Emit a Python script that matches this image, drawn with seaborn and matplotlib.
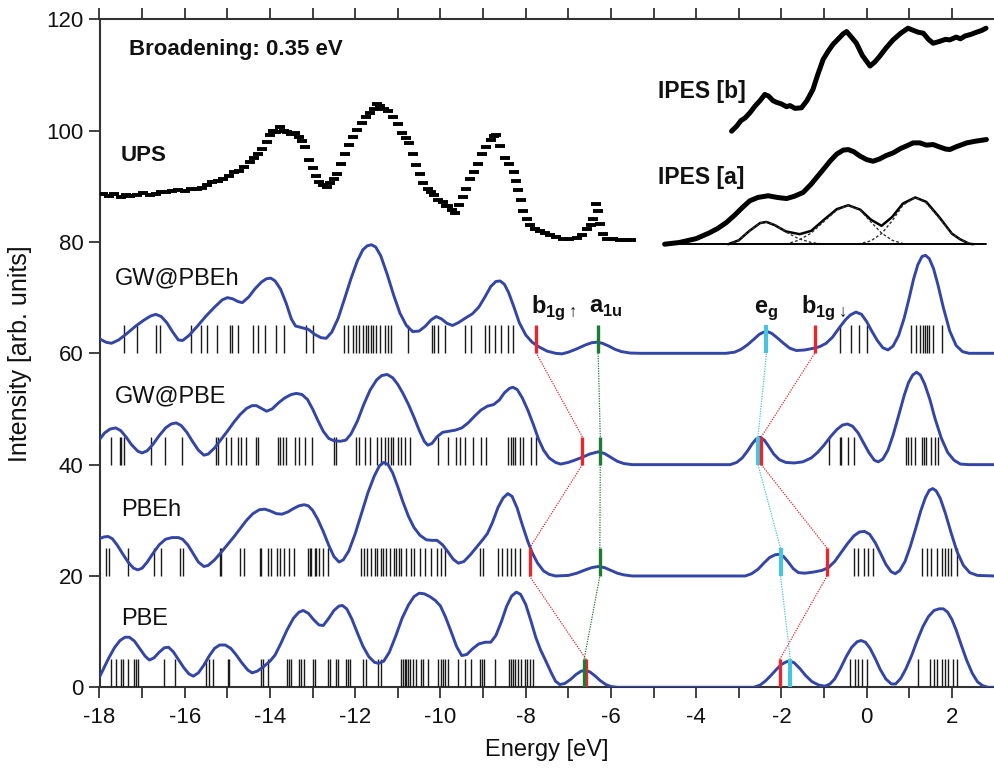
import numpy as np
import pandas as pd
import matplotlib
matplotlib.use("Agg")
import matplotlib.pyplot as plt
import seaborn as sns

# ---------------- data ----------------
# broadened spectra (Energy, Intensity); offsets already included
gwpbeh_e = [-18.0, -17.85, -17.72, -17.55, -17.35, -17.15, -16.95, -16.8, -16.68, -16.55, -16.42, -16.28, -16.15,
            -16.05, -15.9, -15.7, -15.5, -15.3, -15.12, -15.0, -14.88, -14.75, -14.65, -14.5, -14.35, -14.2, -14.08,
            -13.98, -13.88, -13.75, -13.62, -13.5, -13.4, -13.25, -13.1, -12.95, -12.8, -12.68, -12.55, -12.4,
            -12.25, -12.1, -11.95, -11.82, -11.72, -11.62, -11.52, -11.4, -11.25, -11.1, -10.95, -10.8, -10.65,
            -10.5, -10.35, -10.22, -10.1, -9.98, -9.85, -9.72, -9.58, -9.42, -9.25, -9.1, -8.95, -8.82, -8.7, -8.6,
            -8.5, -8.4, -8.28, -8.15, -8.0, -7.85, -7.7, -7.5, -7.3, -7.15, -7.0, -6.8, -6.6, -6.45, -6.32, -6.2,
            -6.05, -5.9, -5.75, -5.55, -5.3, -3.3, -3.1, -2.95, -2.8, -2.65, -2.52, -2.42, -2.33, -2.23, -2.1,
            -1.95, -1.8, -1.65, -1.45, -1.25, -1.1, -0.95, -0.8, -0.65, -0.5, -0.38, -0.25, -0.12, 0.0, 0.12,
            0.25, 0.38, 0.5, 0.62, 0.75, 0.88, 1.0, 1.1, 1.2, 1.3, 1.38, 1.47, 1.57, 1.67, 1.8, 1.95, 2.1, 2.25,
            2.4, 3.0]
gwpbeh_i = [62.6, 62.0, 61.8, 62.4, 63.6, 64.9, 66.0, 66.7, 67.0, 66.6, 65.5, 63.8, 62.4,
            62.3, 63.2, 64.9, 66.7, 68.3, 69.6, 70.0, 69.8, 69.3, 69.1, 70.1, 71.6, 72.8, 73.4,
            73.5, 73.0, 71.5, 69.0, 66.2, 64.9, 64.6, 64.3, 63.4, 62.8, 62.7, 63.8, 66.3,
            69.8, 73.4, 76.6, 78.6, 79.3, 79.5, 79.1, 77.5, 74.2, 70.5, 67.2, 65.0, 63.9,
            64.0, 64.9, 66.0, 66.6, 66.2, 65.4, 65.0, 65.5, 66.3, 67.1, 68.3, 70.2, 72.0, 72.9, 73.0,
            72.4, 70.9, 68.4, 65.5, 63.3, 62.0, 61.2, 60.4, 60.0, 59.9, 60.2, 60.8, 61.5, 61.9, 62.0, 61.8,
            61.3, 60.7, 60.3, 60.05, 60.0, 60.0, 60.2, 60.7, 61.5, 62.5, 63.4, 63.8, 63.9, 63.6, 62.8,
            61.8, 60.9, 60.5, 60.6, 60.9, 61.2, 61.8, 62.9, 64.5, 66.0, 66.9, 67.4, 67.0, 65.7, 64.0,
            62.3, 61.0, 60.6, 61.3, 63.2, 66.3, 70.0, 73.3, 75.9, 77.4, 77.6, 77.0, 75.2, 72.4, 68.2, 64.0, 61.4,
            60.3, 60.0, 60.0]

gwpbe_e = [-18.0, -17.88, -17.75, -17.62, -17.5, -17.38, -17.25, -17.1, -17.0, -16.88, -16.75, -16.6, -16.45, -16.32,
           -16.2, -16.08, -15.95, -15.82, -15.68, -15.55, -15.45, -15.3, -15.15, -15.0, -14.85, -14.7, -14.55,
           -14.42, -14.32, -14.2, -14.08, -13.95, -13.8, -13.65, -13.5, -13.38, -13.25, -13.12, -13.0, -12.88,
           -12.75, -12.62, -12.5, -12.35, -12.22, -12.1, -11.95, -11.8, -11.65, -11.5, -11.38, -11.25, -11.12,
           -11.0, -10.88, -10.75, -10.62, -10.5, -10.38, -10.3, -10.2, -10.08, -9.95, -9.8, -9.65, -9.5, -9.35,
           -9.2, -9.05, -8.9, -8.75, -8.62, -8.5, -8.38, -8.3, -8.2, -8.08, -7.95, -7.82, -7.7, -7.58, -7.45,
           -7.3, -7.18, -7.0, -6.85, -6.68, -6.5, -6.3, -6.15, -6.0, -5.85, -5.7, -5.5, -3.2, -3.05, -2.92,
           -2.8, -2.68, -2.58, -2.5, -2.4, -2.3, -2.18, -2.05, -1.9, -1.7, -1.5, -1.3, -1.15, -1.0, -0.85, -0.7,
           -0.57, -0.45, -0.33, -0.2, -0.08, 0.05, 0.18, 0.27, 0.38, 0.5, 0.62, 0.75, 0.88, 0.98, 1.08, 1.17,
           1.26, 1.36, 1.48, 1.6, 1.75, 1.9, 2.05, 2.2, 2.4, 3.0]
gwpbe_i = [44.5, 45.7, 46.4, 46.6, 46.1, 45.0, 43.6, 42.4, 42.1, 42.5, 43.6, 45.2, 46.6, 47.3,
           47.5, 47.0, 45.8, 44.2, 42.6, 41.7, 41.9, 43.0, 44.5, 46.0, 47.6, 49.0, 50.1,
           50.6, 50.6, 50.1, 49.6, 50.0, 51.1, 52.0, 52.6, 52.8, 52.6, 51.7, 50.0, 48.0,
           46.0, 44.7, 44.3, 44.2, 44.4, 45.5, 47.8, 50.8, 53.4, 55.2, 56.0, 56.2, 55.6,
           54.4, 52.8, 50.8, 48.5, 46.2, 44.2, 43.5, 43.8, 45.0, 45.8, 46.0, 46.2, 46.6, 47.5,
           48.7, 49.8, 50.5, 50.8, 51.6, 52.9, 53.7, 53.9, 53.5, 52.0, 49.8, 47.2, 44.6, 42.6, 41.2,
           40.4, 40.1, 40.4, 40.8, 41.3, 41.9, 42.3, 42.0, 41.3, 40.6, 40.2, 40.0, 40.0, 40.4, 41.2,
           42.4, 43.8, 44.7, 44.9, 44.4, 43.3, 41.9, 40.9, 40.4, 40.3, 40.5, 41.2, 42.2, 43.5, 45.0, 46.3,
           47.1, 47.3, 46.9, 45.7, 44.0, 42.2, 40.8, 40.5, 41.0, 42.6, 45.3, 48.8, 52.4, 54.7, 56.1, 56.6,
           56.1, 54.5, 51.8, 48.4, 44.8, 42.2, 40.8, 40.1, 40.0, 40.0]

pbeh_e = [-18.0, -17.9, -17.8, -17.7, -17.58, -17.45, -17.32, -17.2, -17.1, -17.0, -16.88, -16.75, -16.6, -16.45,
          -16.3, -16.15, -16.05, -15.92, -15.8, -15.68, -15.55, -15.45, -15.3, -15.15, -15.0, -14.85, -14.7,
          -14.55, -14.4, -14.25, -14.12, -14.0, -13.85, -13.72, -13.58, -13.45, -13.32, -13.2, -13.1, -13.0,
          -12.88, -12.75, -12.62, -12.5, -12.38, -12.28, -12.15, -12.0, -11.85, -11.7, -11.55, -11.43, -11.33,
          -11.23, -11.12, -11.0, -10.88, -10.75, -10.62, -10.48, -10.33, -10.2, -10.08, -9.95, -9.82, -9.7,
          -9.58, -9.45, -9.3, -9.15, -9.0, -8.9, -8.78, -8.65, -8.53, -8.42, -8.32, -8.2, -8.08, -7.95, -7.85,
          -7.72, -7.58, -7.45, -7.3, -7.0, -6.8, -6.6, -6.45, -6.3, -6.15, -6.0, -5.85, -5.7, -5.5, -2.85, -2.7,
          -2.55, -2.4, -2.28, -2.15, -2.05, -1.95, -1.85, -1.72, -1.6, -1.45, -1.25, -1.05, -0.9, -0.75, -0.6,
          -0.45, -0.3, -0.17, -0.05, 0.07, 0.2, 0.33, 0.45, 0.57, 0.67, 0.78, 0.9, 1.02, 1.15, 1.27, 1.38, 1.47,
          1.55, 1.63, 1.73, 1.85, 1.98, 2.12, 2.27, 2.42, 2.6, 3.0]
pbeh_i = [26.7, 27.0, 27.1, 26.7, 25.5, 23.9, 22.4, 21.4, 21.1, 21.4, 22.5, 24.0, 25.6, 26.6,
          26.9, 26.9, 26.6, 25.5, 24.0, 22.5, 21.7, 21.9, 22.9, 24.2, 25.6, 27.0, 28.5,
          30.0, 31.2, 31.9, 32.0, 31.7, 31.2, 31.1, 31.5, 32.1, 32.6, 32.8, 32.6, 31.8,
          30.2, 28.0, 25.5, 23.5, 22.5, 22.9, 24.5, 27.6, 31.3, 35.0, 38.0, 39.8, 40.4,
          40.0, 38.5, 36.0, 33.3, 30.7, 28.7, 27.3, 26.5, 26.4, 26.4, 25.6, 24.3, 23.0,
          22.3, 22.6, 23.8, 25.2, 26.6, 27.6, 29.6, 32.3, 34.0, 34.8, 34.3, 32.2, 29.2, 26.2, 24.2,
          22.3, 20.9, 20.3, 20.0, 20.1, 20.5, 21.1, 21.5, 21.7, 21.5, 21.0, 20.5, 20.2, 20.0, 20.0, 20.4,
          21.2, 22.4, 23.3, 23.8, 23.9, 23.5, 22.6, 21.3, 20.6, 20.5, 20.7, 21.0, 21.5, 22.6, 24.2,
          25.8, 27.2, 27.9, 28.0, 27.5, 26.0, 24.0, 22.1, 20.8, 20.4, 21.0, 22.6, 25.2, 28.5, 31.7, 34.1, 35.4,
          35.7, 35.3, 33.9, 31.2, 27.8, 24.4, 21.9, 20.6, 20.1, 20.0]

pbe_e = [-18.0, -17.9, -17.78, -17.65, -17.52, -17.4, -17.3, -17.18, -17.05, -16.93, -16.83, -16.72, -16.6, -16.48,
         -16.38, -16.27, -16.15, -16.02, -15.9, -15.8, -15.68, -15.55, -15.42, -15.3, -15.18, -15.05, -14.92,
         -14.8, -14.66, -14.52, -14.42, -14.3, -14.15, -14.0, -13.88, -13.75, -13.6, -13.45, -13.32, -13.22,
         -13.1, -12.97, -12.85, -12.75, -12.63, -12.5, -12.38, -12.3, -12.2, -12.08, -11.95, -11.82, -11.68,
         -11.55, -11.45, -11.33, -11.2, -11.05, -10.9, -10.75, -10.62, -10.5, -10.38, -10.25, -10.12, -10.0,
         -9.88, -9.75, -9.62, -9.5, -9.38, -9.25, -9.1, -8.95, -8.82, -8.7, -8.57, -8.45, -8.33, -8.22, -8.12,
         -8.0, -7.88, -7.76, -7.65, -7.52, -7.4, -7.3, -7.2, -7.08, -6.95, -6.82, -6.7, -6.6, -6.5, -6.38,
         -6.25, -6.12, -6.0, -5.85, -2.65, -2.5, -2.38, -2.25, -2.12, -2.0, -1.88, -1.8, -1.7, -1.57, -1.43,
         -1.28, -1.12, -0.98, -0.86, -0.75, -0.62, -0.48, -0.35, -0.22, -0.13, -0.03, 0.08, 0.2, 0.32, 0.45,
         0.58, 0.68, 0.8, 0.92, 1.05, 1.18, 1.32, 1.45, 1.58, 1.7, 1.8, 1.9, 2.0, 2.1, 2.22, 2.35, 2.48, 2.6,
         2.72, 2.85, 3.0]
pbe_i = [1.85, 3.4, 5.3, 7.1, 8.4, 9.0, 9.0, 8.3, 6.9, 5.6, 4.9, 5.3, 6.3, 7.1,
         7.2, 6.4, 5.0, 3.5, 2.4, 2.0, 2.6, 4.0, 5.7, 7.0, 7.6, 7.6, 7.0,
         5.9, 4.4, 3.1, 2.6, 2.9, 3.7, 4.7, 5.8, 7.8, 10.3, 12.4, 13.5, 13.8,
         13.3, 12.1, 11.2, 11.1, 12.3, 13.8, 14.6, 14.7, 14.1, 12.3, 9.8, 7.4, 5.5,
         4.5, 4.3, 4.7, 6.3, 9.2, 12.4, 14.8, 16.3, 16.9, 16.8, 16.3, 15.6, 14.6,
         12.6, 10.0, 7.3, 5.7, 5.9, 6.9, 7.8, 8.1, 8.1, 9.3, 11.8, 14.5, 16.4, 17.1, 16.7,
         14.9, 12.0, 8.9, 6.7, 4.6, 2.6, 1.1, 0.5, 0.7, 1.4, 2.3, 2.9, 3.05, 2.8, 2.1,
         1.2, 0.5, 0.15, 0.0, 0.0, 0.4, 1.1, 2.1, 3.2, 4.1, 4.6, 4.7, 4.4, 3.4, 2.1,
         1.0, 0.4, 0.2, 0.6, 1.5, 3.3, 5.5, 7.2, 8.2, 8.4, 8.1, 7.0, 5.2, 3.2, 1.5,
         0.6, 0.6, 1.6, 3.3, 5.6, 8.3, 10.9, 12.7, 13.8, 14.1, 14.1, 13.5, 12.2, 10.3, 7.6, 4.8, 2.5, 1.0,
         0.3, 0.0, 0.0]

# eigenvalue sticks (eV)
gwpbeh_sticks = [-17.43, -17.12, -16.67, -16.59, -15.86, -15.63, -15.47, -15.24, -14.93, -14.88, -14.74, -14.40,
                 -14.28, -14.11, -13.85, -13.66, -13.15, -12.99, -12.26, -12.17, -12.05, -11.97, -11.90, -11.82,
                 -11.74, -11.69, -11.64, -11.58, -11.51, -11.43, -11.31, -11.23, -11.17, -10.76, -10.21, -10.14,
                 -10.06, -9.90, -9.43, -9.28, -8.96, -8.85, -8.73, -8.57, -8.41, -8.30,
                 -0.63, -0.36, -0.18, 0.0, 1.05, 1.16, 1.25, 1.33, 1.37, 1.41, 1.47, 1.56, 1.76]
gwpbe_sticks = [-17.74, -17.53, -17.49, -17.43, -16.79, -16.46, -16.07, -15.26, -15.21, -15.04, -14.91, -14.74,
                -14.67, -14.56, -14.32, -14.28, -13.81, -13.76, -13.70, -13.62, -13.42, -13.31, -13.17, -13.02,
                -12.50, -12.44, -11.97, -11.90, -11.76, -11.66, -11.48, -11.40, -11.31, -11.22, -11.17, -11.11,
                -11.00, -10.92, -10.83, -10.72, -10.06, -9.82, -9.63, -9.55, -9.43, -9.24, -9.04, -8.92, -8.41,
                -8.35, -8.30, -8.24, -8.14, -8.06, -7.87, -7.75,
                -0.88, -0.63, -0.59, -0.43, -0.30, 0.92, 0.98, 1.03, 1.13, 1.29, 1.34, 1.39, 1.52, 1.60, 1.68]
pbeh_sticks = [-17.84, -17.77, -17.34, -16.72, -16.55, -16.12, -16.04, -15.18, -15.16, -14.71, -14.61, -14.24,
               -14.21, -14.05, -13.97, -13.83, -13.77, -13.66, -13.56, -13.44, -13.11, -13.07, -13.03, -12.95,
               -12.91, -12.84, -12.76, -12.64, -11.86, -11.80, -11.72, -11.62, -11.54, -11.48, -11.40, -11.35,
               -11.27, -11.19, -11.08, -11.04, -10.98, -10.92, -10.80, -10.68, -10.61, -10.49, -10.37, -10.23,
               -10.07, -9.98, -9.90, -9.08, -9.00, -8.65, -8.56, -8.45, -8.35, -8.24, -8.14,
               -0.30, -0.20, -0.07, 0.04, 0.14, 1.31, 1.41, 1.52, 1.64, 1.76, 1.84, 1.91, 1.99, 2.11]
pbe_sticks = [-17.73, -17.61, -17.49, -17.45, -17.34, -17.19, -17.14, -17.10, -16.49, -16.22, -15.50, -15.42,
              -15.34, -14.99, -14.95, -14.21, -14.17, -14.05, -13.59, -13.56, -13.50, -13.33, -13.27, -13.19,
              -12.99, -12.95, -12.64, -12.58, -12.44, -12.41, -12.21, -12.17, -12.13, -11.82, -11.74, -11.47,
              -11.40, -10.92, -10.88, -10.84, -10.80, -10.76, -10.72, -10.64, -10.57, -10.45, -10.41, -10.29,
              -10.06, -9.99, -9.94, -9.90, -9.82, -9.59, -9.43, -9.29, -9.08, -9.03, -8.98, -8.73, -8.38, -8.34,
              -8.30, -8.24, -8.18, -8.10, -8.02, -7.98, -7.91, -7.83,
              -0.38, -0.28, -0.20, -0.10, 0.01, 1.21, 1.48, 1.58, 1.66, 1.76, 1.84, 1.91, 2.02, 2.11]

series_names = ["PBE", "PBEh", "GW@PBE", "GW@PBEh"]
offsets = [0, 20, 40, 60]

# labelled orbital levels for [PBE, PBEh, GW@PBE, GW@PBEh]
b1g_up = [-6.58, -7.91, -6.67, -7.75]
a1u = [-6.63, -6.26, -6.25, -6.30]
e_g = [-1.79, -2.02, -2.55, -2.35]
b1g_dn = [-2.04, -0.93, -2.47, -1.22]

# experimental UPS
ups_e = [-17.91, -17.78, -17.65, -17.5, -17.38, -17.28, -17.12, -16.98, -16.82, -16.68, -16.55, -16.44, -16.3,
         -16.15, -16.0, -15.85, -15.72, -15.6, -15.47, -15.35, -15.22, -15.1, -14.97, -14.85, -14.72, -14.6,
         -14.48, -14.38, -14.28, -14.18, -14.08, -14.0, -13.93, -13.85, -13.76, -13.68, -13.6, -13.5, -13.42,
         -13.33, -13.25, -13.17, -13.09, -13.0, -12.92, -12.84, -12.76, -12.67, -12.58, -12.5, -12.42, -12.33,
         -12.25, -12.15, -12.05, -11.95, -11.85, -11.75, -11.65, -11.55, -11.48, -11.41, -11.33, -11.24, -11.12,
         -11.0, -10.9, -10.82, -10.74, -10.65, -10.57, -10.48, -10.4, -10.3, -10.22, -10.15, -10.05, -9.95,
         -9.88, -9.82, -9.74, -9.65, -9.56, -9.48, -9.4, -9.31, -9.22, -9.12, -9.02, -8.92, -8.81, -8.75,
         -8.69, -8.6, -8.48, -8.38, -8.27, -8.22, -8.18, -8.12, -8.06, -7.98, -7.89, -7.78, -7.67, -7.55,
         -7.42, -7.28, -7.13, -6.98, -6.8, -6.67, -6.55, -6.47, -6.42, -6.34, -6.3, -6.25, -6.18, -6.1, -5.95,
         -5.79, -5.67, -5.54]
ups_i = [88.6, 88.3, 88.6, 88.1, 88.4, 88.3, 88.5, 88.8, 88.4, 88.7, 89.0, 88.9, 89.1,
         89.4, 89.2, 89.6, 89.5, 89.7, 90.3, 90.8, 90.9, 91.3, 91.9, 92.5, 92.8, 93.5,
         94.3, 95.0, 95.8, 96.7, 98.0, 99.2, 100.0, 99.8, 100.6, 100.0, 99.8, 99.4, 99.6,
         98.9, 98.1, 97.0, 94.8, 93.2, 91.9, 90.7, 90.2, 89.8, 90.6, 91.4, 92.2, 94.0,
         95.8, 97.5, 98.9, 100.2, 101.4, 102.5, 103.2, 103.9, 104.8, 104.4, 103.9, 103.6, 102.5,
         101.2, 99.6, 98.6, 97.7, 95.8, 93.9, 92.2, 90.6, 89.5, 88.9, 88.4, 87.5, 87.2,
         86.4, 86.5, 85.8, 85.2, 86.6, 88.1, 89.6, 91.3, 92.5, 94.0, 95.8, 97.0, 98.3, 99.0,
         99.3, 97.2, 95.1, 94.0, 92.6, 91.0, 89.4, 87.5, 85.5, 84.2, 83.0, 82.4, 82.0, 81.7,
         81.3, 80.9, 80.6, 80.5, 80.7, 81.3, 82.3, 83.0, 84.2, 86.8, 85.5, 83.3, 81.5, 80.6, 80.5,
         80.3, 80.4, 80.3]

# experimental IPES
ipes_b_e = [-3.17, -3.05, -2.95, -2.85, -2.74, -2.62, -2.5, -2.39, -2.3, -2.2, -2.12, -2.0, -1.88, -1.8, -1.68,
            -1.53, -1.4, -1.26, -1.15, -1.02, -0.9, -0.79, -0.65, -0.55, -0.47, -0.38, -0.24, -0.1, 0.08, 0.2,
            0.31, 0.45, 0.62, 0.8, 0.97, 1.1, 1.2, 1.33, 1.45, 1.56, 1.7, 1.85, 1.95, 2.1, 2.2, 2.31, 2.45,
            2.55, 2.7, 2.8]
ipes_b_i = [99.9, 100.8, 101.8, 102.3, 103.2, 104.4, 105.4, 106.5, 106.2, 105.4, 105.1, 104.8, 104.3, 104.5, 104.0,
            104.1, 105.4, 107.4, 110.0, 112.8, 114.3, 115.5, 116.6, 117.4, 117.8, 117.0, 115.7, 113.5, 111.6, 112.4,
            113.4, 114.8, 116.3, 117.5, 118.4, 118.0, 117.7, 117.5, 116.4, 115.7, 116.0, 116.4, 116.3, 116.8, 116.5,
            117.0, 117.3, 117.6, 118.0, 118.4]
ipes_a_e = [-4.74, -4.4, -4.0, -3.7, -3.5, -3.29, -3.1, -2.9, -2.74, -2.55, -2.31, -2.1, -1.88, -1.7, -1.49, -1.3,
            -1.15, -1.02, -0.85, -0.7, -0.55, -0.43, -0.3, -0.15, 0.0, 0.15, 0.3, 0.45, 0.62, 0.8, 0.95, 1.09,
            1.25, 1.4, 1.56, 1.7, 1.85, 1.95, 2.1, 2.35, 2.55, 2.81]
ipes_a_i = [79.6, 79.9, 80.6, 81.6, 82.4, 83.5, 84.8, 86.3, 87.4, 88.0, 88.3, 88.0, 87.8, 88.2, 88.9, 90.4,
            91.8, 93.0, 94.6, 95.8, 96.5, 96.6, 96.2, 95.4, 94.8, 94.5, 94.9, 95.5, 96.0, 96.8, 97.3, 97.8,
            97.8, 97.4, 97.5, 97.1, 96.7, 96.6, 97.1, 97.8, 98.1, 98.4]
fit_e = [-3.25, -3.0, -2.75, -2.5, -2.35, -2.15, -1.9, -1.57, -1.3, -1.0, -0.7, -0.43, -0.15, 0.1, 0.35, 0.6, 0.85,
         1.14, 1.4, 1.7, 2.0, 2.19, 2.4, 2.5]
fit_i = [79.6, 80.3, 82.0, 83.4, 83.6, 83.0, 81.9, 81.4, 82.0, 84.0, 85.9, 86.6, 85.8, 84.0, 82.9, 84.5, 86.9,
         88.0, 87.2, 84.5, 81.5, 80.5, 79.7, 79.6]
comp1_e = [-3.25, -3.0, -2.75, -2.5, -2.35, -2.15, -1.9, -1.6, -1.3, -1.0]
comp1_i = [79.6, 80.3, 82.0, 83.4, 83.6, 83.1, 81.8, 80.6, 79.9, 79.6]
comp2_e = [-1.9, -1.6, -1.3, -1.0, -0.7, -0.43, -0.15, 0.1, 0.35, 0.6, 0.9]
comp2_i = [79.6, 80.3, 81.6, 83.7, 85.7, 86.6, 85.7, 83.6, 81.6, 80.3, 79.6]
comp3_e = [-0.2, 0.1, 0.35, 0.6, 0.85, 1.14, 1.4, 1.7, 2.0, 2.3, 2.5]
comp3_i = [79.6, 80.2, 81.5, 83.8, 86.6, 88.0, 87.0, 84.3, 81.5, 80.0, 79.6]
ipes_base_e = [-4.74, 2.81]
ipes_base_i = [79.6, 79.6]

x_ticks = list(range(-18, 3, 2))
y_ticks = list(range(0, 121, 20))

# ---------------- style ----------------
sns.set_theme(style="ticks")
plt.rcParams["font.family"] = ["Liberation Sans", "DejaVu Sans"]
plt.rcParams["mathtext.fontset"] = "custom"
plt.rcParams["mathtext.rm"] = "Liberation Sans"
plt.rcParams["mathtext.bf"] = "Liberation Sans:bold"
plt.rcParams["axes.unicode_minus"] = False

BLUE = "#3346A8"
TXT = "#111111"
fig = plt.figure(figsize=(9.95, 7.72), dpi=100)
ax = fig.add_axes([0.1, 0.1097, 0.8995, 0.8653])

curves = {"PBE": (pbe_e, pbe_i), "PBEh": (pbeh_e, pbeh_i),
          "GW@PBE": (gwpbe_e, gwpbe_i), "GW@PBEh": (gwpbeh_e, gwpbeh_i)}
sticks = {"PBE": pbe_sticks, "PBEh": pbeh_sticks, "GW@PBE": gwpbe_sticks, "GW@PBEh": gwpbeh_sticks}

for name, off in zip(series_names, offsets):
    e, i = curves[name]
    df = pd.DataFrame({"E": e, "I": i})
    sns.lineplot(data=df, x="E", y="I", ax=ax, color=BLUE, lw=2.1, sort=False, estimator=None, zorder=4)
    ax.vlines(sticks[name], off, off + 5, color="#1a1a1a", lw=1.0, zorder=3)

STICK_H = 5
levels = [(b1g_up, "#E8262B", 2.4), (a1u, "#1E7B34", 2.4), (e_g, "#46C4E0", 3.0), (b1g_dn, "#E8262B", 2.4)]
for vals, col, lw in levels:
    for k in range(len(offsets)):
        ax.vlines(vals[k], offsets[k], offsets[k] + STICK_H, color=col, lw=lw, zorder=6)
    for k in range(len(offsets) - 1):
        ax.plot([vals[k], vals[k + 1]], [offsets[k] + STICK_H, offsets[k + 1]],
                color=col, lw=0.9, ls=(0, (1, 1)), zorder=5)

# experimental data
sns.scatterplot(x=ups_e, y=ups_i, ax=ax, marker="_", s=45, linewidth=2.8, color="black", zorder=4)
ax.plot(ipes_b_e, ipes_b_i, color="black", lw=3.6, solid_capstyle="round", solid_joinstyle="round", zorder=4)
ax.plot(ipes_a_e, ipes_a_i, color="black", lw=3.6, solid_capstyle="round", solid_joinstyle="round", zorder=4)
ax.plot(fit_e, fit_i, color="black", lw=1.8, zorder=4)
for ce, ci in [(comp1_e, comp1_i), (comp2_e, comp2_i), (comp3_e, comp3_i)]:
    ax.plot(ce, ci, color="#333333", lw=1.0, ls=(0, (2, 1.5)), zorder=4)
ax.plot(ipes_base_e, ipes_base_i, color="black", lw=1.4, zorder=4)

# texts
ax.text(-17.3, 114.5, "Broadening: 0.35 eV", fontsize=16, fontweight="bold", ha="left", va="center", color=TXT)
ax.text(-17.5, 95.6, "UPS", fontsize=16, fontweight="bold", ha="left", va="center", color=TXT)
ax.text(-4.9, 107.0, "IPES [b]", fontsize=16.5, fontweight="bold", ha="left", va="center", color=TXT)
ax.text(-4.9, 91.6, "IPES [a]", fontsize=16.5, fontweight="bold", ha="left", va="center", color=TXT)
name_pos = {"GW@PBEh": (-17.63, 73.5), "GW@PBE": (-17.63, 52.2), "PBEh": (-17.5, 31.8), "PBE": (-17.5, 12.2)}
for name in series_names:
    x0, y0 = name_pos[name]
    ax.text(x0, y0, name, fontsize=17, ha="left", va="center", color=TXT)

lab_kw = dict(fontsize=17, ha="center", va="baseline", color=TXT)
ax.text(-7.35, 67.3, r"$\mathbf{b}_{\mathbf{1g}\uparrow}$", **lab_kw)
ax.text(-6.12, 67.3, r"$\mathbf{a}_{\mathbf{1u}}$", **lab_kw)
ax.text(-2.35, 67.3, r"$\mathbf{e}_{\mathbf{g}}$", **lab_kw)
ax.text(-1.0, 67.3, r"$\mathbf{b}_{\mathbf{1g}\downarrow}$", **lab_kw)

# axes
ax.set_xlim(-18, 3)
ax.set_ylim(0, 120)
ax.set_xticks(x_ticks)
ax.set_xticks(list(range(-17, 3, 2)), minor=True)
ax.set_yticks(y_ticks)
ax.tick_params(axis="both", which="both", direction="out", length=8, width=1.3, color="#333333",
               labelsize=16, labelcolor=TXT, top=True, right=False)
ax.tick_params(axis="x", pad=6)
ax.set_xlabel("Energy [eV]", fontsize=17, labelpad=8, color=TXT)
ax.set_ylabel("Intensity [arb. units]", fontsize=18, labelpad=10, color=TXT)
for s in ["left", "bottom", "top"]:
    ax.spines[s].set_linewidth(1.5)
    ax.spines[s].set_color("#333333")
ax.spines["right"].set_visible(False)
ax.set_facecolor("white")
fig.patch.set_facecolor("white")

fig.savefig("out.png", dpi=100)
